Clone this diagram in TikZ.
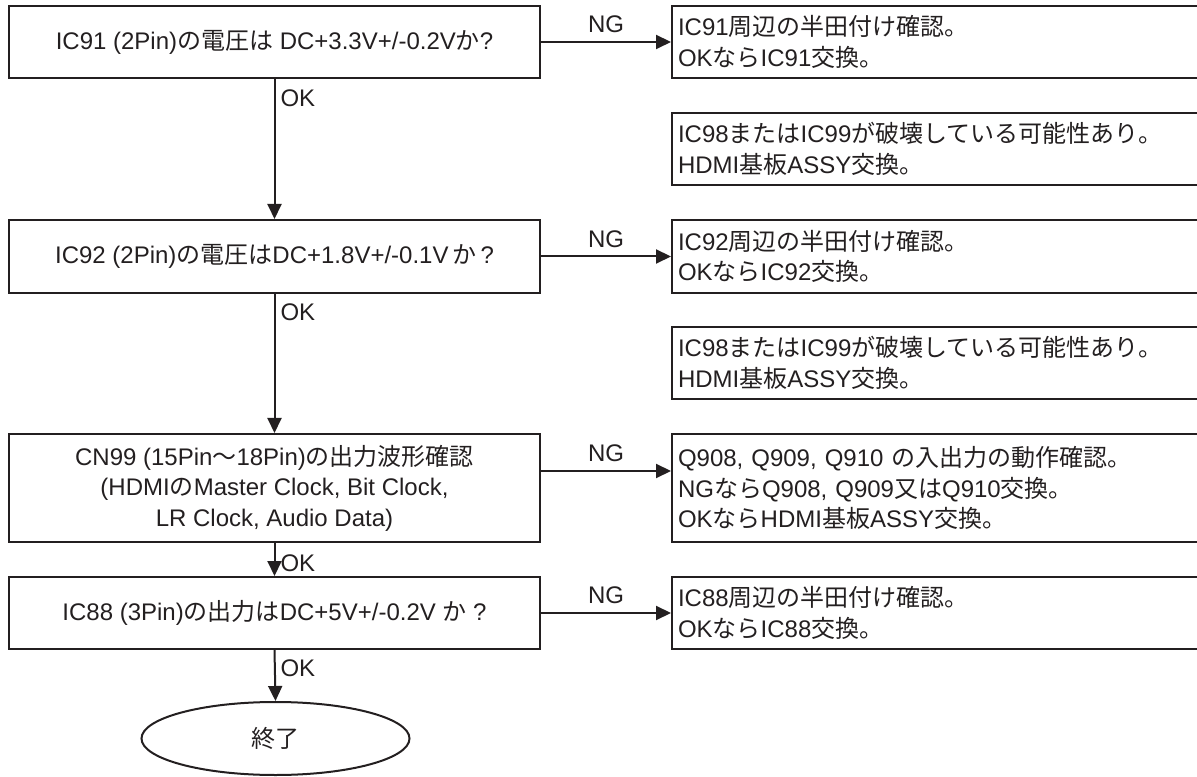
\documentclass[tikz,border=0pt]{standalone}
\usepackage{fontspec}
\setmainfont{Liberation Sans}
\newfontfamily\jafont{Noto Sans CJK JP}
\newcommand{\ja}[1]{{\jafont #1}}
\usetikzlibrary{arrows.meta,shapes.geometric}
\definecolor{ink}{HTML}{231F20}

\begin{document}
\begin{tikzpicture}[x=0.5pt,y=0.5pt,line width=1pt,color=ink,
  every node/.style={font=\fontsize{12pt}{15.3pt}\selectfont,inner sep=0pt},
  checkbox/.style={draw,minimum width=265.5pt,minimum height=36pt,align=center},
  fixbox/.style={draw,anchor=west,minimum height=36pt,text width=266pt,inner xsep=3pt,align=left},
  endbox/.style={draw,ellipse,minimum width=134pt,minimum height=36.5pt},
  flow/.style={-{Triangle[length=7.5pt,width=7pt]}},
  tag/.style={anchor=west}]
  \clip (0,0) rectangle (1197,776);
  \node[checkbox] (b1) at (274.5,734) {IC91 (2Pin)\ja{の電圧は} DC+3.3V+/-0.2V\ja{か}?};
  \node[checkbox,minimum height=36.5pt] (b2) at (274.5,519.5) {IC92 (2Pin)\ja{の電圧は}DC+1.8V+/-0.1V\,\ja{か}\,?};
  \node[checkbox,minimum height=54pt] (b3) at (274.5,288)
    {CN99 (15Pin\ja{～}18Pin)\ja{の出力波形確認}\\(HDMI\ja{の}Master Clock, Bit Clock,\\LR Clock, Audio Data)};
  \node[checkbox] (b4) at (274.5,163) {IC88 (3Pin)\ja{の出力は}DC+5V+/-0.2V \ja{か} ?};
  \node[endbox] (end) at (275.5,37.5) {\ja{終了}};
  \node[fixbox] (r1) at (671,734) {IC91\ja{周辺の半田付け確認。}\\OK\ja{なら}IC91\ja{交換。}};
  \node[fixbox] (r2) at (671,627) {IC98\ja{または}IC99\ja{が破壊している可能性あり。}\\HDMI\ja{基板}ASSY\ja{交換。}};
  \node[fixbox,minimum height=36.5pt] (r3) at (671,519.5) {IC92\ja{周辺の半田付け確認。}\\OK\ja{なら}IC92\ja{交換。}};
  \node[fixbox] (r4) at (671,413) {IC98\ja{または}IC99\ja{が破壊している可能性あり。}\\HDMI\ja{基板}ASSY\ja{交換。}};
  \node[fixbox,minimum height=54pt] (r5) at (671,288)
    {Q908, Q909, Q910 \ja{の入出力の動作確認。}\\NG\ja{なら}Q908, Q909\ja{又は}Q910\ja{交換。}\\OK\ja{なら}HDMI\ja{基板}ASSY\ja{交換。}};
  \node[fixbox] (r6) at (671,163) {IC88\ja{周辺の半田付け確認。}\\OK\ja{なら}IC88\ja{交換。}};
  \draw[flow] (b1.south) -- (b2.north);
  \draw[flow] (b2.south) -- (b3.north);
  \draw[flow] (b3.south) -- (b4.north);
  \draw[flow] (b4.south) -- (end.north);
  \node[tag] at ([xshift=2.5pt,yshift=-9.5pt]b1.south) {OK};
  \node[tag] at ([xshift=2.5pt,yshift=-9pt]b2.south) {OK};
  \node[tag] at ([xshift=2.5pt,yshift=-10pt]b3.south) {OK};
  \node[tag] at ([xshift=2.5pt,yshift=-9pt]b4.south) {OK};
  \draw[flow] (b1.east) -- node[above=4pt] {NG} (r1.west);
  \draw[flow] (b2.east) -- node[above=4pt] {NG} (r3.west);
  \draw[flow] ([yshift=8.5pt]b3.east) -- node[above=4pt] {NG} ([yshift=8.5pt]r5.west);
  \draw[flow] (b4.east) -- node[above=4pt] {NG} (r6.west);
\end{tikzpicture}
\end{document}
